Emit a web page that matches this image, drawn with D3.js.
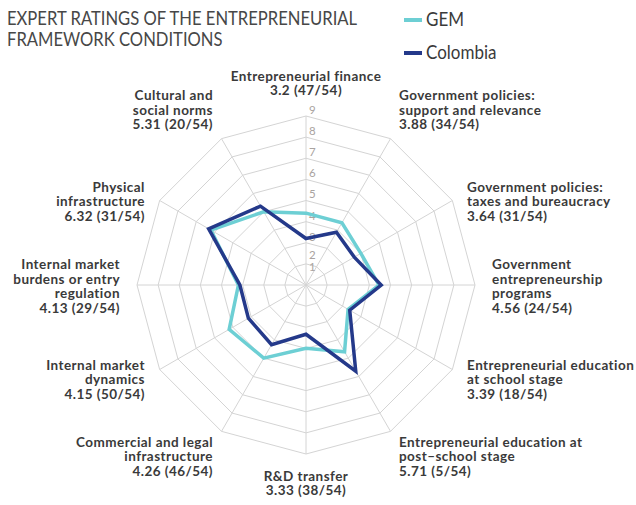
<!DOCTYPE html>
<html lang="en">
<head>
    <meta charset="UTF-8">
    <title>Expert ratings radar</title>
    <script src="https://cdn.jsdelivr.net/npm/d3@7"></script>
    <style>
        body { margin: 0; background: #fff; }
        svg { display: block; font-family: Lato, "Open Sans", sans-serif; }
        .grid { fill: none; stroke: #d4d4d4; stroke-width: 1; }
        .axislabel { font-size: 13.5px; font-weight: bold; fill: #3a3a3a; letter-spacing: 0.45px; }
        .tick { font-size: 11.5px; fill: #a9a3a0; }
        .condensed { font-size: 20px; fill: #474747; }
    </style>
</head>
<body>
<script>
    /******* DATA *******/
    const conditions = [
        ["Entrepreneurial finance"],
        ["Government policies:", "support and relevance"],
        ["Government policies:", "taxes and bureaucracy"],
        ["Government", "entrepreneurship", "programs"],
        ["Entrepreneurial education", "at school stage"],
        ["Entrepreneurial education at", "post\u2013school stage"],
        ["R&D transfer"],
        ["Commercial and legal", "infrastructure"],
        ["Internal market", "dynamics"],
        ["Internal market", "burdens or entry", "regulation"],
        ["Physical", "infrastructure"],
        ["Cultural and", "social norms"]
    ];
    const ranks = ["47/54", "34/54", "31/54", "24/54", "18/54", "5/54", "38/54", "46/54", "50/54", "29/54", "31/54", "20/54"];
    const colombia = [3.2, 3.88, 3.64, 4.56, 3.39, 5.71, 3.33, 4.26, 4.15, 4.13, 6.32, 5.31];
    const gem = [4.4, 4.4, 4.0, 4.45, 3.3, 4.65, 4.0, 5.0, 5.2, 4.2, 6.2, 5.0];
    const ticks = [1, 2, 3, 4, 5, 6, 7, 8, 9];
    const seriesNames = ["GEM", "Colombia"];
    const titleLines = ["EXPERT RATINGS OF THE ENTREPRENEURIAL", "FRAMEWORK CONDITIONS"];

    /******* STYLING *******/
    const width = 636, height = 505;
    const cx = 306, cy = 285, R = 169, labelR = 186;
    const color = d3.scaleOrdinal().domain(seriesNames).range(["#6dcfd4", "#24398a"]);

    const svg = d3.select("body").append("svg")
        .attr("width", width).attr("height", height);

    const n = conditions.length;
    const angle = d3.scaleLinear().domain([0, n]).range([0, 2 * Math.PI]);
    const r = d3.scaleLinear().domain([1, 9]).range([0, R]);
    const pt = (i, rad) => [cx + Math.sin(angle(i)) * rad, cy - Math.cos(angle(i)) * rad];

    // squeeze a text horizontally, the reference type is narrower than Lato
    const condense = (sel, k) => sel.each(function () {
        const w = this.getComputedTextLength();
        d3.select(this).attr("textLength", w * k).attr("lengthAdjust", "spacingAndGlyphs");
    });

    /******* GRID *******/
    const g = svg.append("g");
    g.selectAll("polygon")
        .data(ticks.slice(1))
        .enter()
        .append("polygon")
        .attr("class", "grid")
        .attr("points", v => d3.range(n).map(i => pt(i, r(v)).join(",")).join(" "));
    g.selectAll("line")
        .data(d3.range(n))
        .enter()
        .append("line")
        .attr("class", "grid")
        .attr("x1", cx).attr("y1", cy)
        .attr("x2", i => pt(i, R)[0]).attr("y2", i => pt(i, R)[1]);

    // Tick labels on the vertical axis (low ones pushed up off the hub)
    g.selectAll("text")
        .data(ticks)
        .enter()
        .append("text")
        .attr("class", "tick")
        .attr("x", cx + 3)
        .attr("y", v => cy - Math.max(r(v) + 5, 17 + 12 * (v - 1)))
        .attr("dominant-baseline", "middle")
        .text(d => d);

    /******* SERIES *******/
    const radarLine = d3.lineRadial()
        .angle((d, i) => angle(i))
        .radius(d => r(d))
        .curve(d3.curveLinearClosed);

    [["GEM", gem], ["Colombia", colombia]].forEach(([name, values]) => {
        svg.append("path")
            .attr("transform", `translate(${cx},${cy})`)
            .attr("d", radarLine(values))
            .attr("fill", "none")
            .attr("stroke", color(name))
            .attr("stroke-width", 3.5);
    });

    /******* AXIS LABELS *******/
    const lineH = 14.5;
    conditions.forEach((lines, i) => {
        const a = angle(i);
        const s = Math.sin(a), c = Math.cos(a);
        const [x, y] = pt(i, labelR);
        const all = lines.concat([`${colombia[i]} (${ranks[i]})`]);
        const shift = Math.abs(c) > 0.8 ? -c * 14 : 3 + Math.max(0, c) * 16;
        const top = y + shift - (all.length - 1) * lineH / 2;
        const anchor = s > 0.1 ? "start" : (s < -0.1 ? "end" : "middle");
        const t = svg.append("text")
            .attr("class", "axislabel")
            .attr("text-anchor", anchor)
            .attr("dominant-baseline", "middle");
        t.selectAll("tspan")
            .data(all)
            .enter()
            .append("tspan")
            .attr("x", x)
            .attr("y", (d, k) => top + k * lineH)
            .text(d => d);
    });

    /******* TITLE & LEGEND *******/
    svg.append("text")
        .attr("class", "title condensed")
        .selectAll("tspan")
        .data(titleLines)
        .enter()
        .append("tspan")
        .attr("x", 7)
        .attr("y", (d, k) => 25 + k * 20.7)
        .text(d => d)
        .call(condense, 0.83);

    const legend = svg.append("g")
        .selectAll("g")
        .data(seriesNames)
        .enter()
        .append("g")
        .attr("transform", (d, k) => `translate(404,${20 + k * 33})`);
    legend.append("rect")
        .attr("x", 0).attr("y", -2)
        .attr("width", 18).attr("height", 4)
        .attr("fill", d => color(d));
    legend.append("text")
        .attr("class", "condensed")
        .attr("x", 22).attr("y", 6)
        .style("fill", "#3a3a3a")
        .text(d => d)
        .call(condense, 0.85);
</script>
</body>
</html>
